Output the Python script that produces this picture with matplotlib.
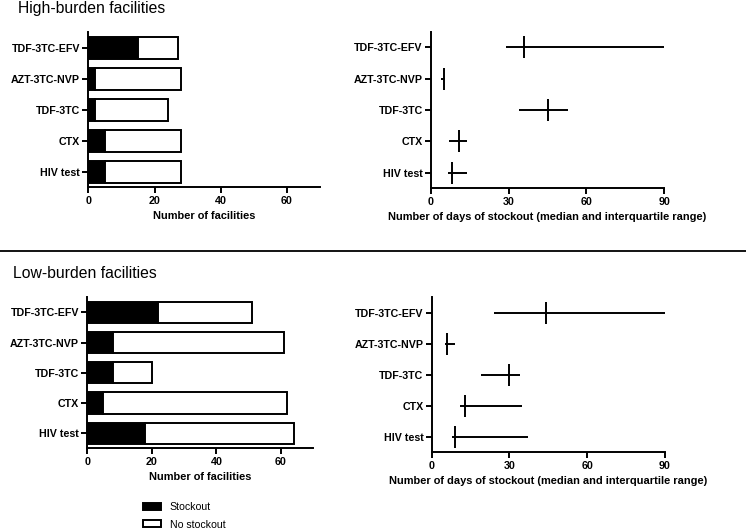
import matplotlib
matplotlib.use("Agg")
import matplotlib.pyplot as plt
from matplotlib.patches import Patch
from matplotlib.lines import Line2D

plt.rcParams['font.family'] = ['Liberation Sans', 'DejaVu Sans']

categories = ["HIV test", "CTX", "TDF-3TC", "AZT-3TC-NVP", "TDF-3TC-EFV"]

# High-burden facilities
high_stockout = [5, 5, 2, 2, 15]
high_total = [28, 28, 24, 28, 27]
high_q1 = [6.5, 7, 34, 4, 29]
high_median = [8, 11, 45, 5, 36]
high_q3 = [14, 14, 53, 5.5, 90]

# Low-burden facilities
low_stockout = [18, 5, 8, 8, 22]
low_total = [64, 62, 20, 61, 51]
low_q1 = [8, 11, 19, 5, 24]
low_median = [9, 13, 30, 6, 44]
low_q3 = [37, 35, 34, 9, 90]

bar_ticks = [0, 20, 40, 60]
day_ticks = [0, 30, 60, 90]

LW = 1.4
TICK_FS = 7.7
LABEL_FS = 7.9

fig = plt.figure(figsize=(7.46, 5.31), dpi=100)


def style(ax):
    for s in ["top", "right"]:
        ax.spines[s].set_visible(False)
    for s in ["left", "bottom"]:
        ax.spines[s].set_linewidth(LW)
    ax.tick_params(axis="both", width=LW, length=4, labelsize=TICK_FS, pad=2.0)
    for lab in ax.get_xticklabels() + ax.get_yticklabels():
        lab.set_fontweight("bold")
    ax.set_ylim(-0.5, len(categories) - 0.5)


def bars(ax, stock, total):
    y = range(len(categories))
    no_stock = [t - s for s, t in zip(stock, total)]
    ax.barh(y, stock, height=0.7, color="black", edgecolor="black", linewidth=LW)
    ax.barh(y, no_stock, left=stock, height=0.7, color="white", edgecolor="black", linewidth=LW)
    ax.set_xlim(0, 70)
    ax.set_xticks(bar_ticks)
    ax.set_yticks(list(y))
    ax.set_yticklabels(categories)
    ax.set_xlabel("Number of facilities", fontsize=LABEL_FS, fontweight="bold", labelpad=4)
    style(ax)


def iqr(ax, q1, med, q3):
    y = list(range(len(categories)))
    ax.hlines(y, q1, q3, color="black", linewidth=LW)
    ax.vlines(med, [v - 0.35 for v in y], [v + 0.35 for v in y], color="black", linewidth=LW)
    ax.set_xlim(0, 90)
    ax.set_xticks(day_ticks)
    ax.set_yticks(y)
    ax.set_yticklabels(categories)
    ax.set_xlabel("Number of days of stockout (median and interquartile range)",
                  fontsize=LABEL_FS, fontweight="bold", labelpad=4)
    style(ax)


ax1 = fig.add_axes([0.1184, 0.6473, 0.3106, 0.2919])
bars(ax1, high_stockout, high_total)
ax2 = fig.add_axes([0.5777, 0.6454, 0.3127, 0.2949])
iqr(ax2, high_q1, high_median, high_q3)
ax3 = fig.add_axes([0.1170, 0.1557, 0.3029, 0.2844])
bars(ax3, low_stockout, low_total)
ax4 = fig.add_axes([0.5787, 0.1482, 0.3127, 0.2919])
iqr(ax4, low_q1, low_median, low_q3)

fig.text(18 / 746, 1 - 8 / 531, "High-burden facilities", fontsize=11.3, va="center", ha="left")
fig.text(13 / 746, 1 - 273 / 531, "Low-burden facilities", fontsize=11.3, va="center", ha="left")

fig.add_artist(Line2D([0, 1], [1 - 251 / 531, 1 - 251 / 531], color="black", linewidth=1.3,
                      transform=fig.transFigure))

handles = [Patch(facecolor="black", edgecolor="black", linewidth=LW, label="Stockout"),
           Patch(facecolor="white", edgecolor="black", linewidth=LW, label="No stockout")]
fig.legend(handles=handles, loc="upper left", bbox_to_anchor=(140 / 746, 1 - 499 / 531),
           frameon=False, fontsize=7.6, handlelength=1.7, handleheight=0.65,
           handletextpad=0.8, labelspacing=0.7, borderaxespad=0, borderpad=0.3)

fig.savefig("out.png", dpi=100)
